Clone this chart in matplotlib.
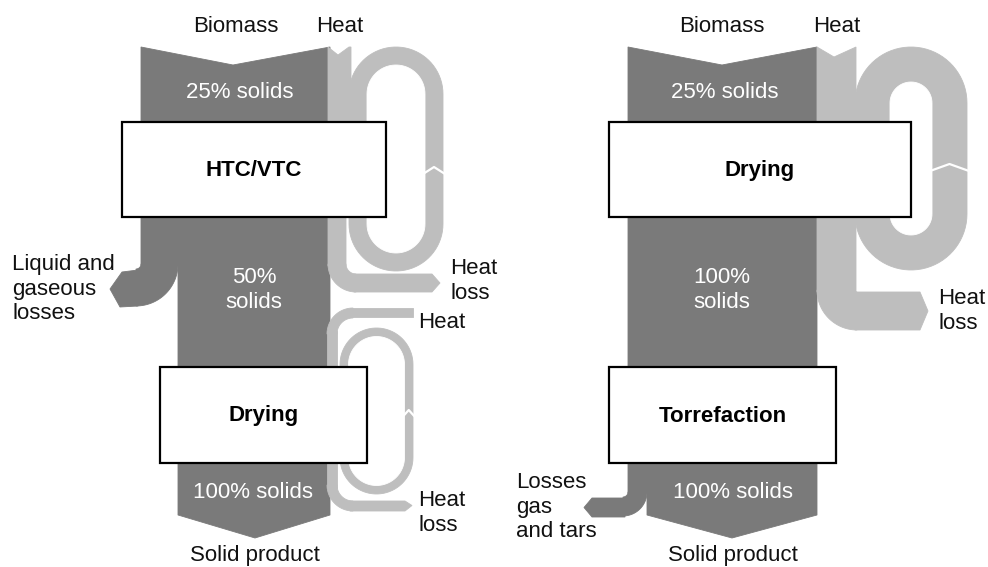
import numpy as np
import matplotlib.pyplot as plt
from matplotlib.patches import Polygon, Rectangle

# labels of the two process chains
inputs = ["Biomass", "Heat"]
left_steps = ["HTC/VTC", "Drying"]
right_steps = ["Drying", "Torrefaction"]
left_solids = ["25% solids", "50%\nsolids", "100% solids"]
right_solids = ["25% solids", "100%\nsolids", "100% solids"]
left_losses = ["Liquid and\ngaseous\nlosses", "Heat\nloss", "Heat", "Heat\nloss"]
right_losses = ["Losses\ngas\nand tars", "Heat\nloss"]
product = "Solid product"

DARK = "#7a7a7a"
LIGHT = "#bebebe"
FONT = ["Liberation Sans", "DejaVu Sans"]
FS = 16

fig = plt.figure(figsize=(9.88, 5.67), dpi=100)
ax = fig.add_axes([0, 0, 1, 1])
ax.set_xlim(0, 988)
ax.set_ylim(567, 0)
ax.axis("off")


def poly(pts, color, z=1):
    ax.add_patch(Polygon(pts, closed=True, fc=color, ec=color, lw=0.6, zorder=z))


def arc(cx, cy, r_in, r_out, a0, a1, color, z=1):
    # band along a circular arc (angles in degrees, y axis points down)
    t = np.radians(np.linspace(a0, a1, 40))
    outer = np.c_[cx + r_out * np.cos(t), cy + r_out * np.sin(t)]
    inner = np.c_[cx + r_in * np.cos(t), cy + r_in * np.sin(t)][::-1]
    poly(np.vstack([outer, inner]), color, z)


def stadium(cx, ty, by, r, color, z=1):
    t1 = np.linspace(np.pi, 2 * np.pi, 40)
    t2 = np.linspace(0, np.pi, 40)
    pts = np.vstack([np.c_[cx + r * np.cos(t1), ty + r * np.sin(t1)],
                     np.c_[cx + r * np.cos(t2), by + r * np.sin(t2)]])
    poly(pts, color, z)


def ring(cx, top, bottom, r_out, r_in, brk):
    stadium(cx, top + r_out, bottom - r_out, r_out, LIGHT, 1)
    stadium(cx, top + r_out, bottom - r_out, r_in, "white", 1.1)
    x0, x1 = cx + r_in - 2, cx + r_out + 2
    ax.plot([x0, (x0 + x1) / 2, x1], [brk + 4, brk - 3, brk + 4],
            color="white", lw=1.6, zorder=1.2)


def box(x0, y0, x1, y1, label):
    ax.add_patch(Rectangle((x0, y0), x1 - x0, y1 - y0, fc="white", ec="black",
                           lw=1.6, zorder=3))
    ax.text((x0 + x1) / 2, (y0 + y1) / 2 + 1, label, ha="center", va="center",
            fontsize=FS, fontweight="bold", family=FONT, zorder=4)


def txt(x, y, s, ha="center", color="#111111"):
    ax.text(x, y, s, ha=ha, va="center", fontsize=FS, family=FONT,
            color=color, zorder=4)


# ---------------- left chain: HTC/VTC + drying ----------------
poly([(141, 47), (233, 65), (330, 47), (330, 515), (255, 538),
      (178, 515), (178, 265), (141, 265)], DARK)
arc(136, 264, 5, 42, 0, 90, DARK)
poly([(138, 270), (122, 272), (110, 289), (120, 307), (138, 306)], DARK)

# heat to HTC and its recovery loop
ring(396, 47, 271, 47, 29, 170)
poly([(328, 47), (338, 55), (349, 47), (351, 47), (351, 200), (346, 200),
      (346, 266), (328, 266)], LIGHT)
arc(356, 264, 10, 28, 180, 90, LIGHT)
poly([(354, 274), (432, 274), (440, 283), (432, 292), (354, 292)], LIGHT)

# heat to drying and its loop
ring(376.5, 328, 494, 36.5, 28, 413)
poly([(350, 308), (413, 308), (413, 317), (350, 317)], LIGHT)
arc(353, 334, 16, 26, 270, 180, LIGHT)
poly([(327, 331), (337, 331), (337, 488), (327, 488)], LIGHT)
arc(353, 485, 16, 26, 180, 90, LIGHT)
poly([(350, 501), (405, 501), (412, 505.5), (405, 511), (350, 511)], LIGHT)

box(122, 122, 386, 217, left_steps[0])
box(160, 367, 367, 463, left_steps[1])

txt(236, 27, inputs[0])
txt(340, 27, inputs[1])
txt(240, 93, left_solids[0], color="white")
txt(254, 290, left_solids[1], color="white")
txt(253, 493, left_solids[2], color="white")
txt(255, 555, product)
txt(12, 289, left_losses[0], ha="left")
txt(450, 281, left_losses[1], ha="left")
txt(418, 322, left_losses[2], ha="left")
txt(418, 513, left_losses[3], ha="left")

# ---------------- right chain: drying + torrefaction ----------------
poly([(628, 47), (722, 65), (817, 47), (817, 515), (732, 538),
      (647, 515), (647, 493), (628, 493)], DARK)
arc(623, 492, 5, 24, 0, 90, DARK)
poly([(625, 498), (592, 498), (584, 507.5), (592, 517), (625, 517)], DARK)

ring(911, 47, 270, 56, 21, 167)
poly([(817, 47), (834, 57), (856, 47), (856, 292), (817, 292)], LIGHT)
arc(857, 290, 2, 40, 180, 90, LIGHT)
poly([(855, 292), (920, 292), (928, 311), (920, 330), (855, 330)], LIGHT)

box(609, 122, 911, 217, right_steps[0])
box(609, 367, 836, 463, right_steps[1])

txt(722, 27, inputs[0])
txt(837, 27, inputs[1])
txt(725, 93, right_solids[0], color="white")
txt(722, 290, right_solids[1], color="white")
txt(733, 493, right_solids[2], color="white")
txt(733, 555, product)
txt(516, 507, right_losses[0], ha="left")
txt(938, 311, right_losses[1], ha="left")

fig.savefig("out.png", dpi=100, facecolor="white")
